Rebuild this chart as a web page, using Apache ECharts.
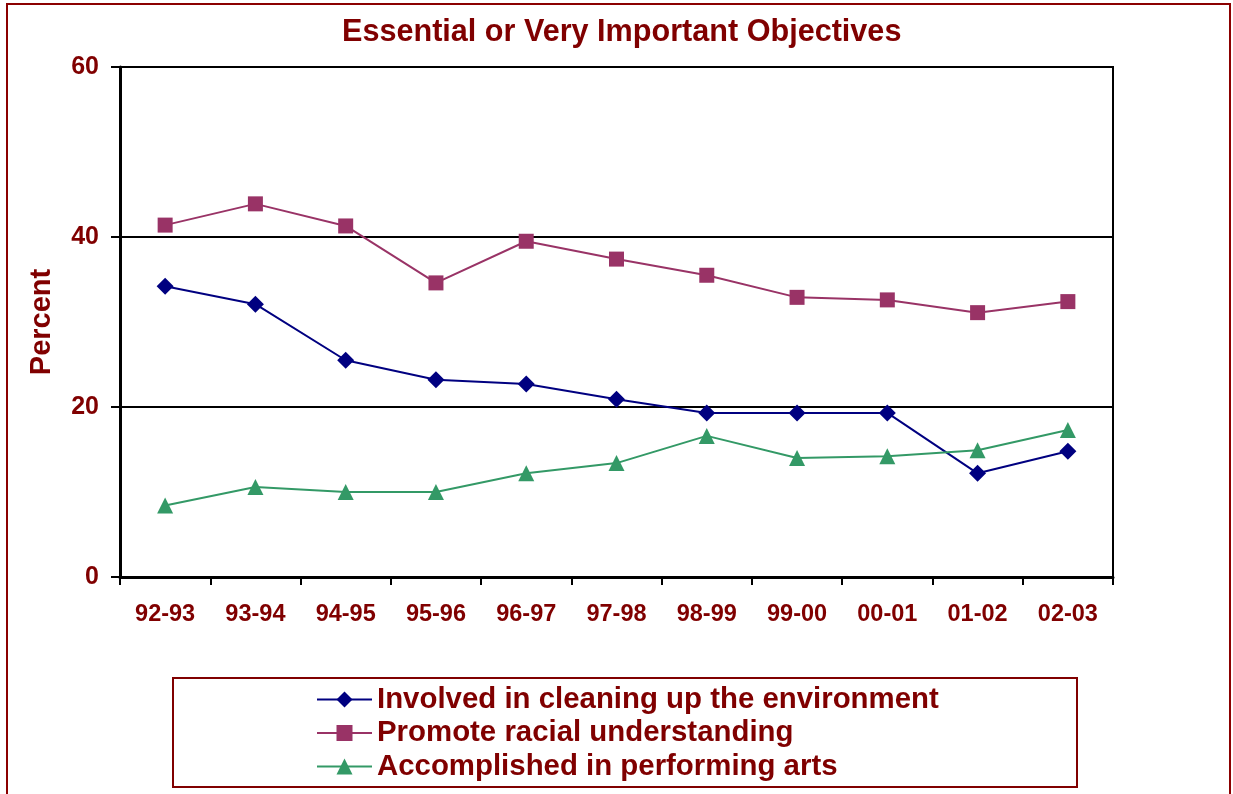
<!DOCTYPE html>
<html>
<head>
<meta charset="utf-8">
<script src="https://cdn.jsdelivr.net/npm/echarts@6/dist/echarts.min.js"></script>
<style>
html,body{margin:0;padding:0;background:#fff;}
#chart{width:1233px;height:794px;}
</style>
</head>
<body>
<div id="chart"></div>
<script>
var categories = ['92-93','93-94','94-95','95-96','96-97','97-98','98-99','99-00','00-01','01-02','02-03'];
var environment = [34.2, 32.1, 25.5, 23.2, 22.7, 20.9, 19.3, 19.3, 19.3, 12.2, 14.8];
var racial = [41.4, 43.9, 41.3, 34.6, 39.5, 37.4, 35.5, 32.9, 32.6, 31.1, 32.4];
var arts = [8.4, 10.6, 10.0, 10.0, 12.2, 13.4, 16.6, 14.0, 14.2, 14.9, 17.3];
var seriesNames = ['Involved in cleaning up the environment','Promote racial understanding','Accomplished in performing arts'];

var textColor = '#800000';
var font = 'Liberation Sans, Arial, sans-serif';
var chart = echarts.init(document.getElementById('chart'), null, {renderer:'canvas'});
chart.setOption({
  animation:false,
  backgroundColor:'#ffffff',
  title:{
    text:'Essential or Very Important Objectives',
    left:342, top:17, padding:0,
    textStyle:{color:textColor,fontFamily:font,fontWeight:'bold',fontSize:30.6}
  },
  grid:{left:120,right:120,top:67,bottom:217,show:true,borderColor:'#000',borderWidth:2,backgroundColor:'transparent'},
  xAxis:{
    type:'category', data:categories, boundaryGap:true,
    axisLine:{lineStyle:{color:'#000',width:3}},
    axisTick:{show:true,length:8,lineStyle:{color:'#000',width:2}},
    axisLabel:{color:textColor,fontFamily:font,fontWeight:'bold',fontSize:23.5,margin:26},
    splitLine:{show:false}
  },
  yAxis:{
    type:'value', min:0, max:60, interval:20,
    name:'Percent', nameLocation:'middle', nameGap:64, nameRotate:90,
    nameTextStyle:{color:textColor,fontFamily:font,fontWeight:'bold',fontSize:29},
    axisLine:{show:true,lineStyle:{color:'#000',width:3}},
    axisTick:{show:true,length:9,lineStyle:{color:'#000',width:2}},
    axisLabel:{color:textColor,fontFamily:font,fontWeight:'bold',fontSize:25,margin:21},
    splitLine:{show:true,lineStyle:{color:'#000',width:2}}
  },
  legend:{
    orient:'vertical', left:316, top:685, padding:0, itemWidth:55, itemHeight:20, itemGap:4.5,
    data:seriesNames,
    textStyle:{color:textColor,fontFamily:font,fontWeight:'bold',fontSize:29.4}
  },
  graphic:[
    {type:'rect',shape:{x:7,y:4,width:1223,height:820},style:{fill:'none',stroke:'#8B0000',lineWidth:2},z:-1,silent:true},
    {type:'rect',shape:{x:173,y:678,width:904,height:109},style:{fill:'none',stroke:'#800000',lineWidth:2},z:-1,silent:true}
  ],
  series:[
    {name:seriesNames[0],type:'line',data:environment,symbol:'diamond',symbolSize:17,
     lineStyle:{color:'#000080',width:2},itemStyle:{color:'#000080'}},
    {name:seriesNames[1],type:'line',data:racial,symbol:'rect',symbolSize:15,
     lineStyle:{color:'#993366',width:2},itemStyle:{color:'#993366'}},
    {name:seriesNames[2],type:'line',data:arts,symbol:'triangle',symbolSize:16,
     lineStyle:{color:'#339966',width:2},itemStyle:{color:'#339966'}}
  ]
});
</script>
</body>
</html>
